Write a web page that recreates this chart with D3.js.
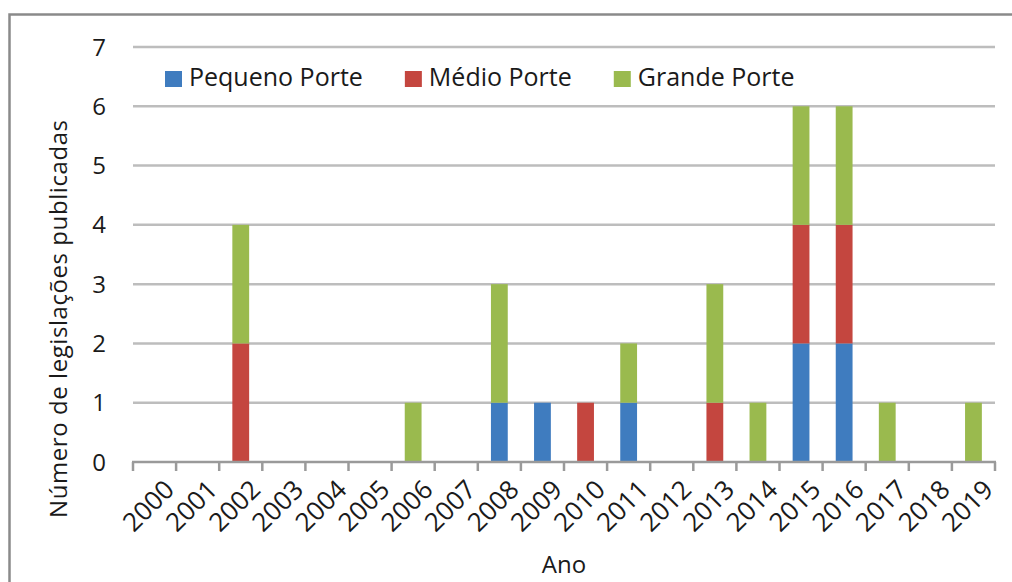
<!DOCTYPE html>
<html>
<head>
<meta charset="utf-8">
<script src="https://cdn.jsdelivr.net/npm/d3@7"></script>
<style>
  html, body { margin: 0; padding: 0; background: #fff; }
  svg { display: block; }
  text { font-family: "Open Sans", "Noto Sans", sans-serif; fill: #1a1a1a; }
</style>
</head>
<body>
<svg id="chart" width="1012" height="582"></svg>
<script>
// Publications per year, split by company size
const years = ["2000","2001","2002","2003","2004","2005","2006","2007","2008","2009",
               "2010","2011","2012","2013","2014","2015","2016","2017","2018","2019"];
const pequeno = [0,0,0,0,0,0,0,0,1,1,0,1,0,0,0,2,2,0,0,0];
const medio   = [0,0,2,0,0,0,0,0,0,0,1,0,0,1,0,2,2,0,0,0];
const grande  = [0,0,2,0,0,0,1,0,2,0,0,1,0,2,1,2,2,1,0,1];
const seriesNames = ["Pequeno Porte", "Médio Porte", "Grande Porte"];
const seriesColors = ["#3f7cbf", "#c4463f", "#9aba4e"];
const yTicks = [0,1,2,3,4,5,6,7];

const rows = years.map((y, i) => ({
  year: y,
  "Pequeno Porte": pequeno[i],
  "Médio Porte": medio[i],
  "Grande Porte": grande[i]
}));

const svg = d3.select("#chart");
const W = 1012, H = 582;
const plot = { left: 133, right: 995, top: 47, bottom: 462 };

// Outer frame
svg.append("rect")
  .attr("x", 9.5).attr("y", 14.5)
  .attr("width", W + 20).attr("height", H + 20)
  .attr("fill", "none").attr("stroke", "#8a8a8a").attr("stroke-width", 2.5);

const x = d3.scaleBand().domain(years).range([plot.left, plot.right])
  .paddingInner(0.61).paddingOuter(0.305);
const xb = d3.scaleBand().domain(years).range([plot.left, plot.right]);
const y = d3.scaleLinear().domain([0, 7]).range([plot.bottom, plot.top]);

// Horizontal gridlines
svg.append("g").selectAll("line").data(yTicks.filter(d => d > 0)).join("line")
  .attr("x1", plot.left).attr("x2", plot.right)
  .attr("y1", d => y(d)).attr("y2", d => y(d))
  .attr("stroke", "#bdbdbd").attr("stroke-width", 2.5);

// Y tick labels
svg.append("g").selectAll("text").data(yTicks).join("text")
  .attr("x", 106).attr("y", d => y(d))
  .attr("dy", "0.36em")
  .attr("text-anchor", "end")
  .attr("font-size", 24)
  .text(d => d);

// Stacked bars
const stack = d3.stack().keys(seriesNames)(rows);
svg.append("g").selectAll("g").data(stack).join("g")
  .attr("fill", (d, i) => seriesColors[i])
  .selectAll("rect").data(d => d.filter(s => s[1] > s[0])).join("rect")
  .attr("x", d => x(d.data.year))
  .attr("width", x.bandwidth())
  .attr("y", d => y(d[1]))
  .attr("height", d => y(d[0]) - y(d[1]));

// X axis line and ticks at category boundaries
const axisG = svg.append("g").attr("stroke", "#9a9a9a").attr("stroke-width", 2.5);
axisG.append("line")
  .attr("x1", plot.left - 1).attr("x2", plot.right + 1)
  .attr("y1", plot.bottom).attr("y2", plot.bottom);
const bounds = years.map(d => xb(d)).concat([plot.right]);
axisG.selectAll("line.tick").data(bounds).join("line")
  .attr("class", "tick")
  .attr("x1", d => d).attr("x2", d => d)
  .attr("y1", plot.bottom).attr("y2", plot.bottom + 9);

// Rotated year labels
svg.append("g").selectAll("text").data(years).join("text")
  .attr("transform", d => `translate(${xb(d) + xb.bandwidth() / 2 + 8},${plot.bottom + 16}) rotate(-45)`)
  .attr("text-anchor", "end")
  .attr("dy", "0.72em")
  .attr("font-size", 26)
  .text(d => d);

// Axis titles
svg.append("text")
  .attr("transform", `translate(67,319) rotate(-90)`)
  .attr("text-anchor", "middle")
  .attr("font-size", 24)
  .attr("textLength", 398)
  .attr("lengthAdjust", "spacing")
  .text("Número de legislações publicadas");

svg.append("text")
  .attr("x", 564).attr("y", 573)
  .attr("text-anchor", "middle")
  .attr("font-size", 24)
  .text("Ano");

// Legend: swatch, label, then a fixed gap before the next entry
const legend = svg.append("g").attr("transform", "translate(165,71)");
let cursor = 0;
seriesNames.forEach((name, i) => {
  const item = legend.append("g").attr("transform", `translate(${cursor},0)`);
  item.append("rect")
    .attr("width", 17).attr("height", 16)
    .attr("fill", seriesColors[i]);
  const label = item.append("text")
    .attr("x", 24).attr("y", 15)
    .attr("font-size", 25)
    .text(name);
  cursor += 24 + label.node().getComputedTextLength() + 42;
});
</script>
</body>
</html>
